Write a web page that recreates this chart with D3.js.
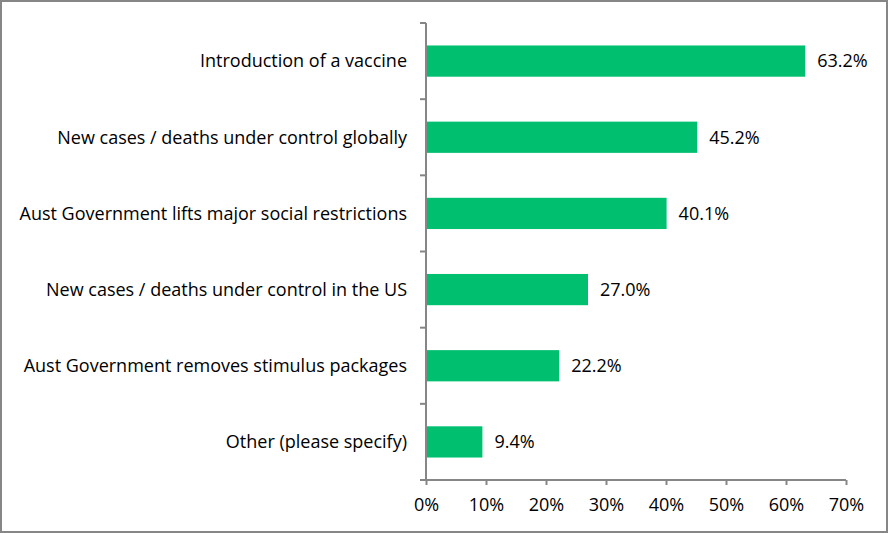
<!DOCTYPE html>
<meta charset="utf-8">
<style>
body { margin: 0; background: #fff; }
text { font-family: "Open Sans", sans-serif; fill: #000; }
.axis path, .axis line { stroke: #868686; stroke-width: 2px; }
</style>
<svg width="888" height="533"></svg>
<script src="https://d3js.org/d3.v7.min.js"></script>
<script>

var categories = [
  "Introduction of a vaccine",
  "New cases / deaths under control globally",
  "Aust Government lifts major social restrictions",
  "New cases / deaths under control in the US",
  "Aust Government removes stimulus packages",
  "Other (please specify)"
];
var values = [63.2, 45.2, 40.1, 27.0, 22.2, 9.4];
var xTicks = [0, 10, 20, 30, 40, 50, 60, 70];

var svg = d3.select("svg");
var width = +svg.attr("width");
var height = +svg.attr("height");
var fs = 18;

// outer frame
svg.append("rect")
  .attr("x", 1).attr("y", 1)
  .attr("width", width - 2).attr("height", height - 2)
  .attr("fill", "#fff")
  .attr("stroke", "#868686")
  .attr("stroke-width", 2);

var x = d3.scaleLinear().domain([0, 70]).range([426, 846]);
var y = d3.scaleBand().domain(categories).range([23, 480]).paddingInner(0.59).paddingOuter(0.295);

// bars
svg.append("g").selectAll("rect")
  .data(values)
  .enter().append("rect")
  .attr("x", x(0))
  .attr("y", function(d, i) { return y(categories[i]); })
  .attr("width", function(d) { return x(d) - x(0); })
  .attr("height", y.bandwidth())
  .attr("fill", "#00BF6F");

// value labels
svg.append("g").selectAll("text")
  .data(values)
  .enter().append("text")
  .attr("x", function(d) { return x(d) + 12; })
  .attr("y", function(d, i) { return y(categories[i]) + y.bandwidth() / 2; })
  .attr("dy", "0.35em")
  .attr("font-size", fs)
  .text(function(d) { return d.toFixed(1) + "%"; });

// x axis
var xAxis = svg.append("g")
  .attr("class", "axis")
  .attr("transform", "translate(0,480)")
  .call(d3.axisBottom(x).tickValues(xTicks).tickSize(5).tickPadding(13)
    .tickFormat(function(d) { return d + "%"; }));
xAxis.select(".domain").attr("d", "M" + x(0) + ",0H" + x(70));
xAxis.selectAll("text").attr("font-size", fs).attr("fill", "#000");

// y axis with band boundary ticks
var yAxis = svg.append("g").attr("class", "axis");
var step = (480 - 23) / categories.length;
yAxis.append("line")
  .attr("x1", x(0)).attr("x2", x(0))
  .attr("y1", 23).attr("y2", 480);
yAxis.selectAll(".bt")
  .data(d3.range(categories.length + 1))
  .enter().append("line")
  .attr("x1", x(0) - 6).attr("x2", x(0))
  .attr("y1", function(i) { return 23 + i * step; })
  .attr("y2", function(i) { return 23 + i * step; });
yAxis.selectAll("text")
  .data(categories)
  .enter().append("text")
  .attr("x", 407)
  .attr("y", function(d) { return y(d) + y.bandwidth() / 2; })
  .attr("dy", "0.35em")
  .attr("text-anchor", "end")
  .attr("font-size", fs)
  .text(function(d) { return d; });

</script>
